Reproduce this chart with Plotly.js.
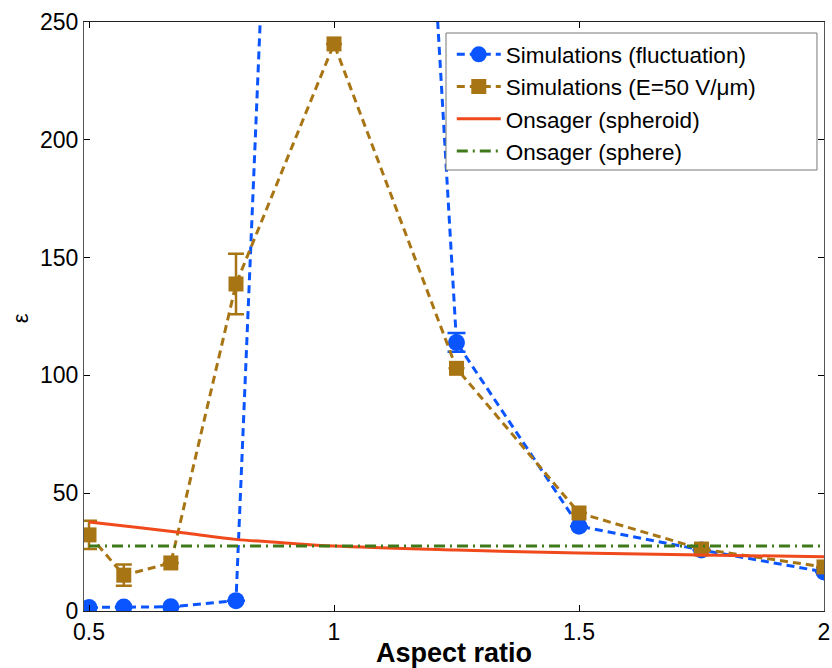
<!DOCTYPE html>
<html>
<head>
<meta charset="utf-8">
<script src="https://cdn.plot.ly/plotly-3.0.1.min.js"></script>
<style>html,body{margin:0;padding:0;background:#fff;}#chart{width:832px;height:668px;}</style>
</head>
<body>
<div id="chart"></div>
<script>
// Aspect ratios
const xSim = [0.5, 0.571, 0.667, 0.8, 1.0, 1.25, 1.5, 1.75, 2.0];
// Simulations (fluctuation)
const epsFluct = [1.5, 1.7, 1.8, 4.4, 1000, 114, 36, 25.9, 16.6];
const errFluct = [0, 0, 0, 0, 0, 4, 0, 0, 0];
// Simulations (E=50 V/um)
const epsField = [32.3, 15.2, 20.4, 138.8, 240.7, 103, 41.6, 26.3, 18.7];
const errField = [6, 4.5, 0, 12.8, 0, 0, 0, 0, 0];
// Onsager (spheroid)
const xOns = [0.5, 0.6, 0.7, 0.8, 0.9, 1.0, 1.25, 1.5, 1.75, 2.0];
const epsSpheroid = [37.8, 35.4, 33.0, 30.4, 28.9, 27.6, 25.9, 24.6, 23.8, 23.0];
// Onsager (sphere)
const xSphere = [0.5, 2.0];
const epsSphere = [27.6, 27.6];

const names = ['Simulations (fluctuation)', 'Simulations (E=50 V/μm)', 'Onsager (spheroid)', 'Onsager (sphere)'];
const colors = ['#0a55ff', '#a87514', '#f04a1c', '#3f7a1a'];

const traces = [
  {x: xSim, y: epsFluct, name: names[0], mode: 'lines+markers', type: 'scatter',
   line: {color: colors[0], width: 3, dash: '8px,5px'},
   marker: {symbol: 'circle', size: 17, color: colors[0]},
   error_y: {type: 'data', array: errFluct, visible: true, color: colors[0], thickness: 2.5, width: 9}},
  {x: xSim, y: epsField, name: names[1], mode: 'lines+markers', type: 'scatter',
   line: {color: colors[1], width: 3, dash: '8px,5px'},
   marker: {symbol: 'square', size: 15, color: colors[1]},
   error_y: {type: 'data', array: errField, visible: true, color: colors[1], thickness: 2.5, width: 8}},
  {x: xOns, y: epsSpheroid, name: names[2], mode: 'lines', type: 'scatter', line: {color: colors[2], width: 3, shape: 'spline'}},
  {x: xSphere, y: epsSphere, name: names[3], mode: 'lines', type: 'scatter', line: {color: colors[3], width: 3, dash: '11px,5px,2px,5px'}}
];

const font = {family: '"Liberation Sans", Arial, Helvetica, sans-serif', color: '#000'};

const layout = {
  width: 832, height: 668,
  margin: {l: 84, r: 8, t: 22, b: 57},
  paper_bgcolor: '#fff', plot_bgcolor: '#fff',
  font: Object.assign({size: 22}, font),
  showlegend: true,
  legend: {x: 0.497, y: 0.981, xanchor: 'left', yanchor: 'top', bgcolor: 'rgba(0,0,0,0)', borderwidth: 0,
           font: Object.assign({size: 22.5}, font), itemwidth: 44, tracegroupgap: 0},
  shapes: [{type: 'rect', xref: 'paper', yref: 'paper', x0: 0.4892, x1: 0.9905, y0: 0.7487, y1: 0.9813,
            fillcolor: '#fff', line: {color: '#777', width: 1}, layer: 'above'}],
  annotations: [{text: 'ε', xref: 'paper', yref: 'paper', x: -0.0865, y: 0.497, xanchor: 'center', yanchor: 'middle',
                 textangle: -90, showarrow: false, font: Object.assign({size: 22}, font)}],
  xaxis: {range: [0.4898, 2.0], tickvals: [0.5, 1, 1.5, 2], ticktext: ['0.5', '1', '1.5', '2'],
          ticks: 'inside', ticklen: 6, tickcolor: '#000', mirror: 'ticks', showline: true, linecolor: '#222', linewidth: 1,
          showgrid: false, zeroline: false, tickfont: Object.assign({size: 23}, font),
          title: {text: '<b>Aspect ratio</b>', font: Object.assign({size: 27}, font), standoff: 10}, automargin: false},
  yaxis: {range: [0, 250], tickvals: [0, 50, 100, 150, 200, 250],
          ticks: 'inside', ticklen: 6, tickcolor: '#000', mirror: 'ticks', showline: true, linecolor: '#555', linewidth: 1,
          showgrid: false, zeroline: false, tickfont: Object.assign({size: 23}, font), automargin: false}
};

Plotly.newPlot('chart', traces, layout, {displayModeBar: false, staticPlot: true});
</script>
</body>
</html>
